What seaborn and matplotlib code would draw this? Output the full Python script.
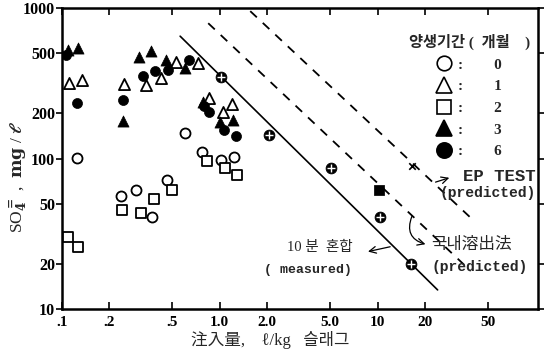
import numpy as np
import pandas as pd
import matplotlib
matplotlib.use("Agg")
import matplotlib.pyplot as plt
import seaborn as sns
from matplotlib.lines import Line2D
from matplotlib.ticker import FixedLocator, FixedFormatter, NullLocator

# ---------------- data ----------------
m0_x = [0.125, 0.604, 0.774, 1.015, 1.227, 0.236, 0.295, 0.463, 0.372]
m0_y = [101, 149, 111, 97.7, 103, 56, 62, 72.4, 41]
m1_x = [0.111, 0.134, 0.248, 0.341, 0.426, 0.530, 0.725, 0.857, 1.045, 1.20]
m1_y = [316, 331, 311, 307, 341, 437, 432, 251, 203, 231]
m2_x = [0.109, 0.126, 0.239, 0.318, 0.385, 0.497, 0.834, 1.084, 1.282]
m2_y = [30.2, 25.9, 45.7, 43.2, 53.9, 61.8, 96.3, 86.7, 78.2]
m3_x = [0.109, 0.126, 0.244, 0.310, 0.365, 0.457, 0.600, 0.786, 1.007, 1.213]
m3_y = [525, 541, 179, 473, 517, 454, 403, 236, 175, 181]
m6_x = [0.106, 0.125, 0.244, 0.325, 0.386, 0.471, 0.635, 0.797, 0.857, 1.06, 1.273]
m6_y = [486, 233, 247, 354, 380, 386, 454, 222, 204, 154, 141]
mix_x = [1.02, 2.06, 5.1, 10.3, 16.2]
mix_y = [347, 143.5, 86, 40.6, 19.9]
sq_x = [10.2]
sq_y = [61.8]
ep_pt_x = [16.6]
ep_pt_y = [89.8]
measured_line_x = [0.561, 24.0]
measured_line_y = [651, 13.4]
domestic_line_x = [0.845, 38.9]
domestic_line_y = [794, 17.9]
ep_line_x = [1.56, 38.9]
ep_line_y = [955, 40.4]

months = ["0", "1", "2", "3", "6"]
xticks = [0.1, 0.2, 0.5, 1, 2, 5, 10, 20, 50]
xtick_labels = [".1", ".2", ".5", "1.0", "2.0", "5.0", "10", "20", "50"]
yticks = [10, 20, 50, 100, 200, 500, 1000]
ytick_labels = ["10", "20", "50", "100", "200", "500", "1000"]

# ---------------- style ----------------
sns.set_theme(style="ticks")
plt.rcParams["font.family"] = ["Liberation Serif", "Noto Sans CJK KR"]
plt.rcParams["font.weight"] = "bold"
plt.rcParams["mathtext.fontset"] = "dejavuserif"
KFONT = ["Liberation Serif", "Noto Sans CJK KR"]
MONO = ["Liberation Mono", "Noto Sans CJK KR"]

fig = plt.figure(figsize=(5.48, 3.54), dpi=100)
ax = fig.add_axes([0.113, 0.127, 0.869, 0.850])

ms = 52
mt = 64
open_kw = dict(color="white", edgecolor="black", linewidth=1.3, zorder=3)
fill_kw = dict(color="black", edgecolor="black", linewidth=0.5, zorder=3)

sns.scatterplot(x=m0_x, y=m0_y, marker="o", s=ms, ax=ax, **open_kw)
sns.scatterplot(x=m1_x, y=m1_y, marker="^", s=mt, ax=ax, **open_kw)
sns.scatterplot(x=m2_x, y=m2_y, marker="s", s=ms, ax=ax, **open_kw)
sns.scatterplot(x=m3_x, y=m3_y, marker="^", s=mt, ax=ax, **fill_kw)
sns.scatterplot(x=m6_x, y=m6_y, marker="o", s=ms, ax=ax, **fill_kw)

# crossed circles (10 min mixing, measured)
sns.scatterplot(x=mix_x, y=mix_y, marker="o", ax=ax, color="black",
                edgecolor="black", s=60, zorder=3)
sns.scatterplot(x=mix_x, y=mix_y, marker="+", ax=ax, color="white",
                s=30, linewidth=1.0, zorder=4)
sns.scatterplot(x=sq_x, y=sq_y, marker="s", ax=ax, color="black",
                edgecolor="black", s=45, zorder=3)
sns.scatterplot(x=ep_pt_x, y=ep_pt_y, marker="x", ax=ax, color="black",
                s=22, linewidth=1.2, zorder=3)

sns.lineplot(x=measured_line_x, y=measured_line_y, ax=ax, color="black",
             lw=1.2, estimator=None)
sns.lineplot(x=domestic_line_x, y=domestic_line_y, ax=ax, color="black",
             lw=1.3, estimator=None, linestyle=(0, (5, 4.5)))
sns.lineplot(x=ep_line_x, y=ep_line_y, ax=ax, color="black",
             lw=1.3, estimator=None, linestyle=(0, (5, 4.5)))

ax.set_xscale("log")
ax.set_yscale("log")
ax.set_xlim(0.1, 104)
ax.set_ylim(10, 1000)

ax.xaxis.set_major_locator(FixedLocator(xticks))
ax.xaxis.set_major_formatter(FixedFormatter(xtick_labels))
ax.yaxis.set_major_locator(FixedLocator(yticks))
ax.yaxis.set_major_formatter(FixedFormatter(ytick_labels))
ax.xaxis.set_minor_locator(NullLocator())
ax.yaxis.set_minor_locator(NullLocator())

for sp in ax.spines.values():
    sp.set_visible(True)
    sp.set_linewidth(1.8)
    sp.set_color("black")

ax.tick_params(axis="x", which="major", direction="in", length=5, width=1.2,
               top=True, labelsize=11, pad=5, colors="black")
ax.tick_params(axis="y", which="major", direction="out", length=4, width=1.2,
               labelsize=11.5, pad=1, colors="black")
ax.tick_params(axis="y", which="major", right=True)
for t in ax.get_xticklabels() + ax.get_yticklabels():
    t.set_fontweight("bold")

ax.set_xlabel("注入量,    ℓ/kg   슬래그", fontsize=12, family=KFONT)
ax.xaxis.set_label_coords(0.437, -0.074)
ax.set_ylabel(r"SO$_4^{=}$ ,  $\mathbf{mg}$ / $\ell$", fontsize=12.5)
ax.yaxis.set_label_coords(-0.066, 0.44)

# annotations
ax.text(0.994, 0.442, "EP TEST", transform=ax.transAxes,
        ha="right", va="center", fontsize=12.5, family=MONO)
ax.text(0.994, 0.385, "(predicted)", transform=ax.transAxes,
        ha="right", va="center", fontsize=10.5, family=MONO)
ax.annotate("", xy=(0.819, 0.439), xytext=(0.779, 0.419),
            xycoords="axes fraction", textcoords="axes fraction",
            arrowprops=dict(arrowstyle="->", color="black", lw=0.9))

ax.text(0.861, 0.213, "국내溶出法", transform=ax.transAxes, ha="center",
        va="center", fontsize=12, family=KFONT, fontweight="normal")
ax.text(0.878, 0.140, "(predicted)", transform=ax.transAxes, ha="center",
        va="center", fontsize=10.5, family=MONO)
ax.annotate("", xy=(0.769, 0.213), xytext=(0.737, 0.316),
            xycoords="axes fraction", textcoords="axes fraction",
            arrowprops=dict(arrowstyle="->", color="black", lw=0.9,
                            connectionstyle="arc3,rad=0.6"))

ax.text(0.542, 0.206, "10 분  혼합", transform=ax.transAxes, ha="center",
        va="center", fontsize=10.5, family=KFONT, fontweight="normal")
ax.text(0.517, 0.130, "( measured)", transform=ax.transAxes, ha="center",
        va="center", fontsize=9.5, family=MONO)
ax.annotate("", xy=(0.637, 0.189), xytext=(0.695, 0.209),
            xycoords="axes fraction", textcoords="axes fraction",
            arrowprops=dict(arrowstyle="->", color="black", lw=0.9))

# legend
handles = [
    Line2D([], [], marker="o", ls="", mfc="white", mec="black", mew=1.2, ms=10.5),
    Line2D([], [], marker="^", ls="", mfc="white", mec="black", mew=1.2, ms=11),
    Line2D([], [], marker="s", ls="", mfc="white", mec="black", mew=1.2, ms=10.5),
    Line2D([], [], marker="^", ls="", mfc="black", mec="black", mew=1.2, ms=11),
    Line2D([], [], marker="o", ls="", mfc="black", mec="black", mew=1.2, ms=11),
]
labels = [":        " + m for m in months]
leg = ax.legend(handles, labels, title="양생기간 (  개월    )",
                loc="upper right", bbox_to_anchor=(1.005, 0.95),
                frameon=False, fontsize=11, handlelength=1.0,
                handletextpad=0.45, labelspacing=0.52, borderpad=0.2)
leg.get_title().set_fontfamily(KFONT)
leg.get_title().set_fontsize(11)
leg.get_title().set_fontweight("bold")
for t in leg.get_texts():
    t.set_fontweight("bold")

fig.savefig("out.png", dpi=100)
